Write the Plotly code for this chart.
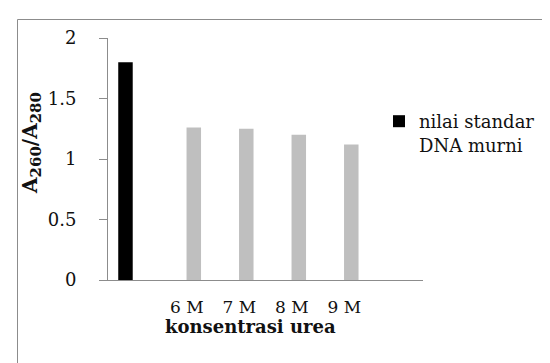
import plotly.graph_objects as go

# Data
std_label = "nilai standar<br>DNA murni"
std_x = [1]
std_values = [1.8]
urea_x = [2, 3, 4, 5]
urea_labels = ["6 M", "7 M", "8 M", "9 M"]
urea_values = [1.26, 1.25, 1.2, 1.12]
y_ticks = [0, 0.5, 1, 1.5, 2]
y_ticktext = ["0", "0.5", "1", "1.5", "2"]

W, H = 550, 363
L, R, T, B = 100, 135, 30, 91
pw, ph = W - L - R, H - T - B

def px(x):
    return (x - L) / pw

def py(y):
    return (H - B - y) / ph

FONT = "DejaVu Serif"
AXC = "#8c8c8c"
TXT = "#111111"
BW = 0.276

fig = go.Figure()
fig.add_trace(go.Bar(x=std_x, y=std_values, name=std_label, marker_color="#000000",
                     marker_line_width=0, width=BW, offset=-0.305, showlegend=True))
fig.add_trace(go.Bar(x=urea_x, y=urea_values, name="urea", marker_color="#bfbfbf",
                     marker_line_width=0, width=BW, offset=-0.004, showlegend=False))

fig.update_layout(
    width=W, height=H,
    margin=dict(l=L, r=R, t=T, b=B, pad=0),
    paper_bgcolor="white", plot_bgcolor="white",
    barmode="overlay",
    font=dict(family=FONT, color=TXT),
    showlegend=True,
    legend=dict(x=px(371), y=py(95), xanchor="left", yanchor="top",
                font=dict(family=FONT, size=18, color=TXT),
                valign="top", itemwidth=30, bgcolor="rgba(0,0,0,0)",
                tracegroupgap=0),
    xaxis=dict(range=[0.5, 6.5], tickmode="array", tickvals=urea_x, ticktext=urea_labels,
               showgrid=False, zeroline=False, showline=True, linecolor=AXC, linewidth=1,
               ticks="", ticklabelstandoff=12,
               tickfont=dict(family=FONT, size=17, color=TXT)),
    yaxis=dict(range=[0, 2], tickmode="array", tickvals=y_ticks, ticktext=y_ticktext,
               showgrid=False, zeroline=False, showline=True, linecolor=AXC, linewidth=1,
               ticks="outside", ticklen=8, tickcolor=AXC, ticklabelstandoff=19,
               tickfont=dict(family=FONT, size=18, color=TXT)),
    annotations=[
        dict(text="<b>konsentrasi urea</b>", xref="paper", yref="paper",
             x=px(242), y=py(318), xanchor="center", yanchor="middle", showarrow=False,
             font=dict(family=FONT, size=18, color=TXT)),
        dict(text="<b>A<sub><span style='font-size:15px'>260</span></sub>/A<sub><span style='font-size:15px'>280</span></sub></b>",
             xref="paper", yref="paper", x=px(23), y=py(135), textangle=-90,
             xanchor="center", yanchor="middle", showarrow=False,
             font=dict(family=FONT, size=20, color=TXT)),
    ],
    shapes=[
        dict(type="rect", xref="paper", yref="paper",
             x0=px(9.5), x1=px(560), y0=py(11.5), y1=py(370),
             line=dict(color="#8c8c8c", width=1), fillcolor="rgba(0,0,0,0)", layer="below"),
    ],
)

fig.write_html("out.html")
